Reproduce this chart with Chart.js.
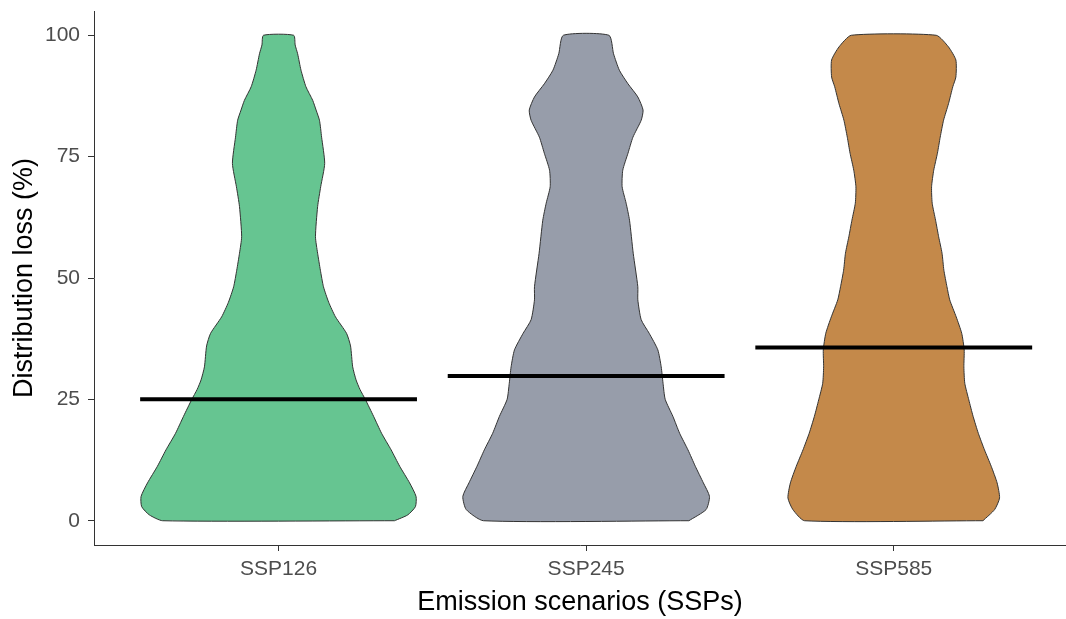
<!DOCTYPE html>
<html>
<head>
<meta charset="utf-8">
<script src="https://cdn.jsdelivr.net/npm/chart.js@4.4.1/dist/chart.umd.min.js"></script>
<style>
  html, body { margin: 0; padding: 0; background: #ffffff; }
  #wrap { width: 1066px; height: 619px; }
</style>
</head>
<body>
<div id="wrap"><canvas id="c" width="1066" height="619"></canvas></div>
<script>
// Scenarios shown along the x axis
const categories = ['SSP126', 'SSP245', 'SSP585'];
const fillColors = ['#66C591', '#979DAA', '#C4894A'];

// Median distribution loss (%) per scenario
const medians = [25.0, 29.8, 35.7];

// Y-axis tick values
const yTicks = [0, 25, 50, 75, 100];

// Violin outlines: loss levels (%) and the half-width of the density at each level
const levels126 = [0, 1.2, 2.9, 5, 7.8, 11.2, 14.6, 18, 21.5, 25, 27, 29, 31.7, 36, 38.6, 42, 45, 48.2, 51.6, 55.1, 58.5, 64.7, 68.8, 73.6, 79, 82.5, 84.6, 86.6, 89.4, 92.8, 96.2, 98, 100];
const half126   = [0.377, 0.420, 0.445, 0.447, 0.426, 0.394, 0.366, 0.335, 0.309, 0.282, 0.265, 0.252, 0.241, 0.234, 0.221, 0.185, 0.163, 0.146, 0.136, 0.127, 0.120, 0.127, 0.137, 0.150, 0.140, 0.133, 0.122, 0.111, 0.089, 0.073, 0.062, 0.054, 0.049];

const levels245 = [0, 2.3, 5, 7.8, 11.2, 14.6, 18, 21.5, 25, 28.3, 31.7, 35.2, 38.6, 41.4, 45.5, 48.2, 55.1, 61.9, 65.4, 68.8, 72.2, 75.7, 79, 82.5, 84.6, 87.3, 90, 92.8, 96.2, 100];
const half245   = [0.334, 0.390, 0.401, 0.381, 0.355, 0.331, 0.304, 0.282, 0.257, 0.250, 0.244, 0.233, 0.205, 0.179, 0.168, 0.168, 0.153, 0.141, 0.130, 0.117, 0.119, 0.136, 0.152, 0.179, 0.185, 0.168, 0.136, 0.108, 0.089, 0.074];

const levels585 = [0, 2.3, 4.7, 7.8, 11.2, 14.6, 18, 21.5, 24.9, 28.3, 31.7, 35.2, 38.6, 42, 45.5, 48.2, 51.6, 55.1, 58.5, 61.9, 65.4, 68.8, 72.2, 75.7, 79, 82.5, 85.9, 89.4, 91.4, 94.9, 97.6, 100];
const half585   = [0.290, 0.328, 0.344, 0.336, 0.317, 0.295, 0.275, 0.258, 0.244, 0.231, 0.228, 0.229, 0.221, 0.203, 0.182, 0.173, 0.163, 0.157, 0.146, 0.136, 0.125, 0.123, 0.130, 0.142, 0.151, 0.162, 0.178, 0.192, 0.202, 0.202, 0.178, 0.138];

const violinLevels = [levels126, levels245, levels585];
const violinHalf = [half126, half245, half585];

// Closed outline: up the right side, down the left side
function outline(center, levels, half) {
  const pts = [];
  for (let i = 0; i < levels.length; i++) pts.push({ x: center + half[i], y: levels[i] });
  for (let i = levels.length - 1; i >= 0; i--) pts.push({ x: center - half[i], y: levels[i] });
  pts.push({ x: center + half[0], y: levels[0] });
  return pts;
}

const datasets = [];
categories.forEach((name, i) => {
  const center = i + 1;
  datasets.push({
    label: name,
    data: outline(center, violinLevels[i], violinHalf[i]),
    showLine: true,
    fill: 'shape',
    backgroundColor: fillColors[i],
    borderColor: '#333333',
    borderWidth: 1,
    pointRadius: 0,
    tension: 0.2,
    order: 2
  });
  datasets.push({
    label: name + ' median',
    data: [{ x: center - 0.45, y: medians[i] }, { x: center + 0.45, y: medians[i] }],
    showLine: true,
    fill: false,
    borderColor: '#000000',
    borderWidth: 4,
    pointRadius: 0,
    order: 1
  });
});

const tickColor = '#4D4D4D';
const axisColor = '#333333';
const family = 'Liberation Sans, Arial, sans-serif';

new Chart(document.getElementById('c'), {
  type: 'scatter',
  data: { datasets },
  options: {
    responsive: false,
    animation: false,
    devicePixelRatio: 1,
    layout: { padding: { top: 11, right: 0, left: 0, bottom: 0 } },
    plugins: { legend: { display: false }, tooltip: { enabled: false } },
    scales: {
      x: {
        type: 'linear',
        min: 0.4,
        max: 3.56,
        afterBuildTicks: (scale) => { scale.ticks = categories.map((_, i) => ({ value: i + 1 })); },
        afterFit: (scale) => { scale.height = 74; scale.paddingLeft = 0; scale.paddingRight = 0; },
        ticks: {
          autoSkip: false,
          maxRotation: 0,
          color: tickColor,
          font: { family, size: 21 },
          padding: 6,
          callback: (v) => categories[Math.round(v) - 1]
        },
        grid: { drawOnChartArea: false, color: axisColor, tickLength: 6, tickWidth: 1 },
        border: { display: true, color: axisColor, width: 1 },
        title: {
          display: true,
          text: 'Emission scenarios (SSPs)',
          color: '#000000',
          font: { family, size: 27 },
          padding: { top: 0, bottom: 0 }
        }
      },
      y: {
        type: 'linear',
        min: -5,
        max: 105,
        afterBuildTicks: (scale) => { scale.ticks = yTicks.map(v => ({ value: v })); },
        afterFit: (scale) => { scale.width = 94; scale.paddingTop = 0; scale.paddingBottom = 0; },
        ticks: {
          color: tickColor,
          font: { family, size: 21 },
          padding: 8
        },
        grid: { drawOnChartArea: false, color: axisColor, tickLength: 6, tickWidth: 1 },
        border: { display: true, color: axisColor, width: 1 },
        title: {
          display: true,
          text: 'Distribution loss (%)',
          color: '#000000',
          font: { family, size: 27 },
          padding: { top: 8, bottom: 0 }
        }
      }
    }
  }
});
</script>
</body>
</html>
